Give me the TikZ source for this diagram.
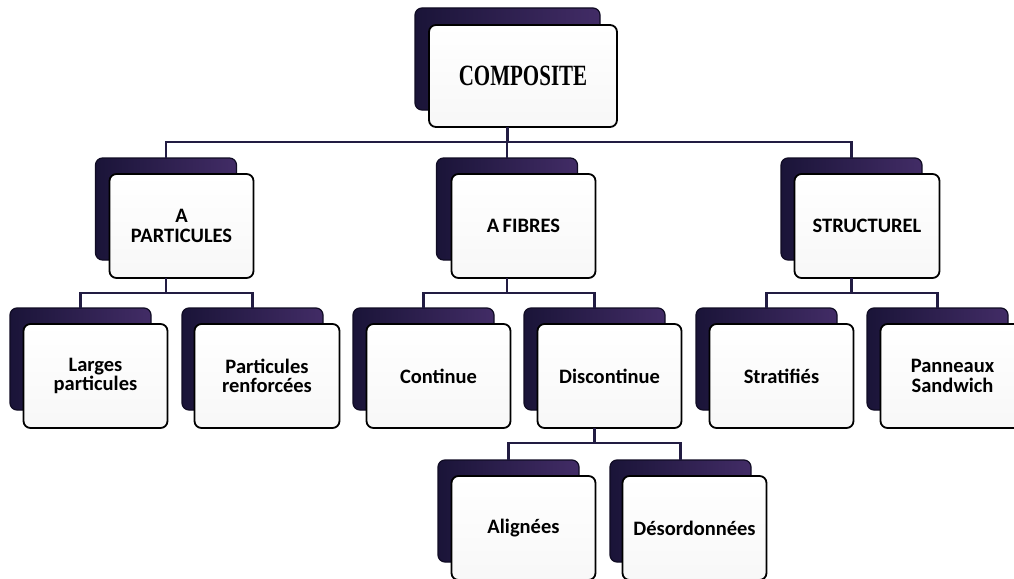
\documentclass[tikz,border=0pt]{standalone}
\usepackage{fontspec}
\setmainfont{Liberation Serif}
\newfontfamily\boxfont{Carlito}
\definecolor{backL}{RGB}{26,20,56}
\definecolor{backR}{RGB}{66,44,102}
\definecolor{backEdge}{RGB}{16,12,36}
\definecolor{linkc}{RGB}{34,28,66}
\begin{document}
\begin{tikzpicture}[x=1pt,y=-1pt,
  backbox/.style={draw=backEdge, line width=1.2pt, rounded corners=7pt,
    left color=backL, right color=backR,
    minimum width=141pt, minimum height=102pt, inner sep=0pt, outer sep=0pt},
  frontbox/.style={draw=black, line width=1.8pt, rounded corners=7pt,
    top color=white, bottom color=gray!6,
    minimum width=144pt, minimum height=104pt, align=center,
    font=\boxfont\bfseries\fontsize{20.5}{19.5}\selectfont,
    text=black, inner sep=0pt, outer sep=0pt},
  link/.style={draw=linkc, line width=2.4pt}
]
\useasboundingbox (0,0) rectangle (1014,578);
\clip (0,0) rectangle (1014,578);
\fill[white] (0,0) rectangle (1014,578);

% Level 1
\node[backbox, minimum width=185pt] (compB) at (507.5,59) {};
\node[frontbox, minimum width=188pt, minimum height=102pt,
      font=\rmfamily\bfseries\fontsize{21}{24}\selectfont] (compF) at (523,76)
      {\scalebox{1}[1.4]{COMPOSITE}};

% Level 2
\node[backbox] (partB) at (166,209) {};
\node[frontbox] (partF) at (181.5,226) {A\\PARTICULES};
\node[backbox] (fibB) at (507,209) {};
\node[frontbox] (fibF) at (523.5,226) {A\,FIBRES};
\node[backbox] (strB) at (851.5,209) {};
\node[frontbox, minimum width=145pt] (strF) at (867,226) {STRUCTUREL};

% Level 3
\node[backbox] (larB) at (80.5,359) {};
\node[frontbox] (larF) at (95.5,376) {Larges\\particules};
\node[backbox] (renB) at (252.5,359) {};
\node[frontbox, minimum width=145pt] (renF) at (267,376) {Particules\\renforcées};
\node[backbox] (conB) at (423.5,359) {};
\node[frontbox] (conF) at (438.5,376) {Continue};
\node[backbox] (disB) at (594.5,359) {};
\node[frontbox] (disF) at (609.5,376) {Discontinue};
\node[backbox] (strtB) at (766.5,359) {};
\node[frontbox] (strtF) at (781.5,376) {Stratifiés};
\node[backbox] (panB) at (937.5,359) {};
\node[frontbox] (panF) at (952.5,376) {Panneaux\\Sandwich};

% Level 4
\node[backbox] (aliB) at (508.5,511) {};
\node[frontbox] (aliF) at (523.5,528) {Alignées};
\node[backbox] (desB) at (680.5,511) {};
\node[frontbox] (desF) at (694.5,528) {Désordonnées};

% Connectors
\draw[link] (compF.south -| compB.center) -- ++(0,15) coordinate (j1);
\draw[link] (j1) -| (partB.north);
\draw[link] (j1) -| (fibB.north);
\draw[link] (j1) -| (strB.north);

\draw[link] (partF.south -| partB.center) -- ++(0,15) coordinate (j2);
\draw[link] (j2) -| (larB.north);
\draw[link] (j2) -| (renB.north);

\draw[link] (fibF.south -| fibB.center) -- ++(0,15) coordinate (j3);
\draw[link] (j3) -| (conB.north);
\draw[link] (j3) -| (disB.north);

\draw[link] (strF.south -| strB.center) -- ++(0,15) coordinate (j4);
\draw[link] (j4) -| (strtB.north);
\draw[link] (j4) -| (panB.north);

\draw[link] (disF.south -| disB.center) -- ++(0,15) coordinate (j5);
\draw[link] (j5) -| (aliB.north);
\draw[link] (j5) -| (desB.north);
\end{tikzpicture}
\end{document}
